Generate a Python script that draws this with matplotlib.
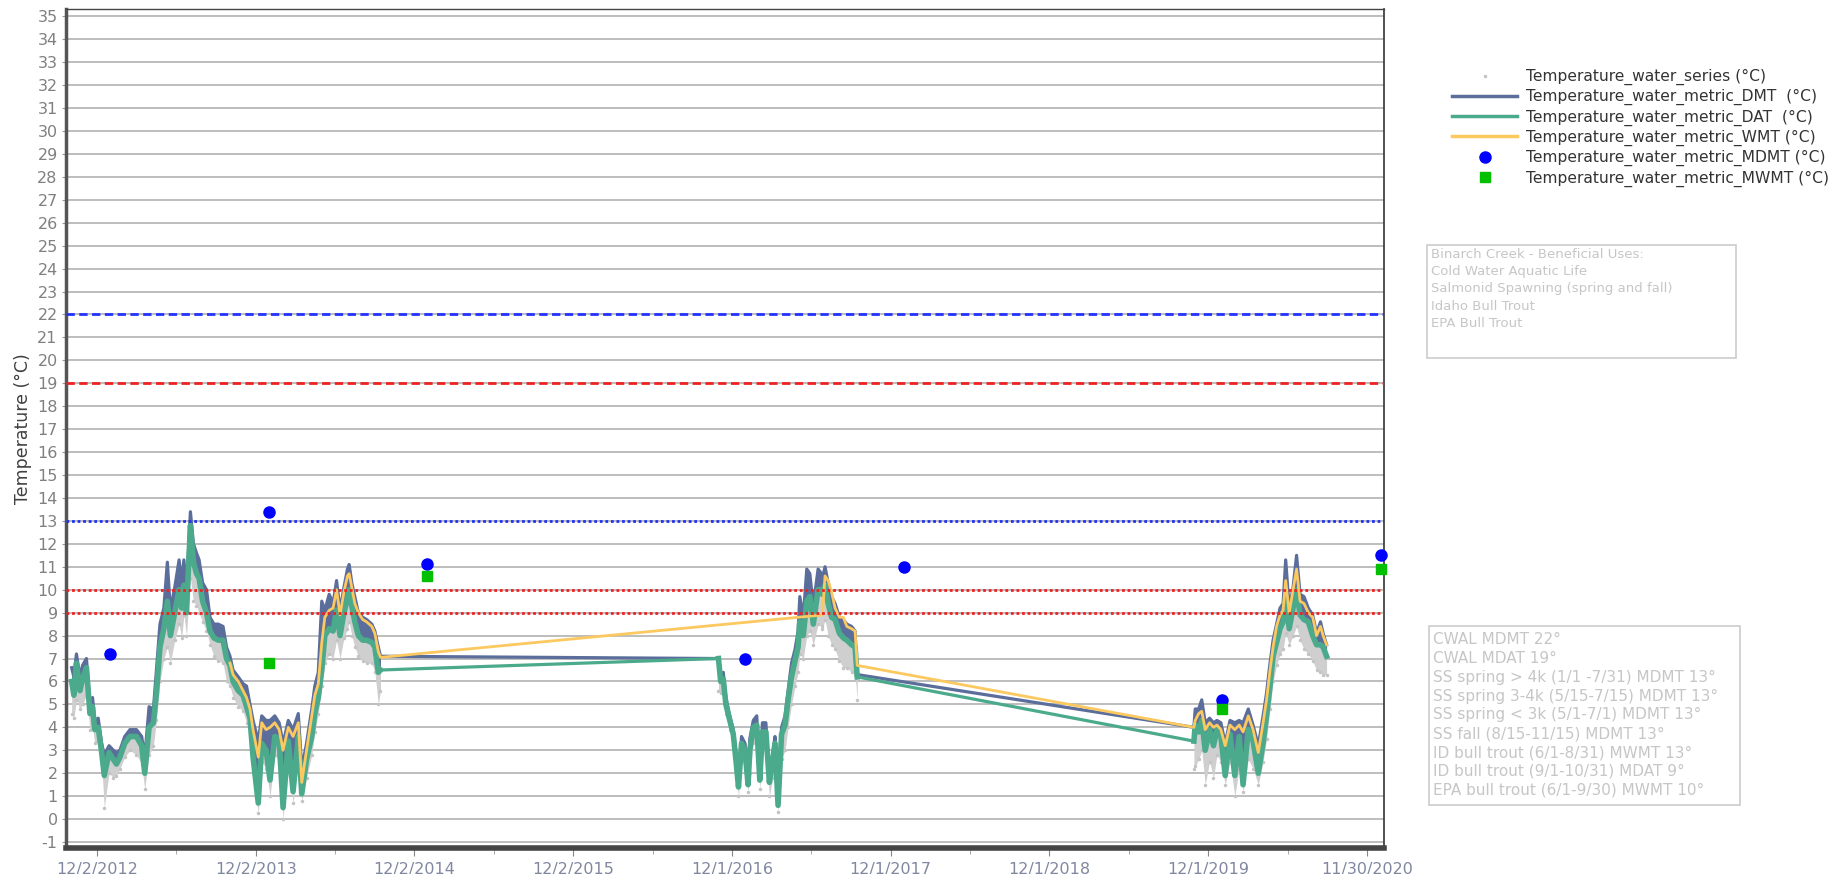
import numpy as np
import pandas as pd
import matplotlib
matplotlib.use('Agg')
import matplotlib.pyplot as plt
from matplotlib.lines import Line2D
from matplotlib.patches import Rectangle

plt.rcParams['axes.unicode_minus'] = False

# daily metrics (dmt = daily max, dat = daily average,
# wmt = weekly max, series_low = lowest raw readings)
dates = ['2012-10-05', '2012-10-10', '2012-10-16', '2012-10-24', '2012-10-30', '2012-11-08',
         '2012-11-16', '2012-11-22', '2012-11-27', '2012-12-05', '2012-12-13', '2012-12-19',
         '2012-12-30', '2013-01-09', '2013-01-16', '2013-01-24', '2013-02-04', '2013-02-16',
         '2013-03-03', '2013-03-15', '2013-03-22', '2013-04-01', '2013-04-11', '2013-04-18',
         '2013-04-26', '2013-05-05', '2013-05-13', '2013-05-20', '2013-05-30', '2013-06-09',
         '2013-06-15', '2013-06-20', '2013-06-26', '2013-07-05', '2013-07-12', '2013-07-19',
         '2013-07-25', '2013-08-02', '2013-08-11', '2013-08-19', '2013-08-28', '2013-09-07',
         '2013-09-18', '2013-09-26', '2013-10-04', '2013-10-11', '2013-10-23', '2013-11-03',
         '2013-11-11', '2013-11-19', '2013-11-26', '2013-12-08', '2013-12-16', '2013-12-26',
         '2014-01-04', '2014-01-15', '2014-01-25', '2014-02-03', '2014-02-15', '2014-02-26',
         '2014-03-10', '2014-03-18', '2014-03-29', '2014-04-10', '2014-04-17', '2014-04-25',
         '2014-05-03', '2014-05-10', '2014-05-20', '2014-05-29', '2014-06-06', '2014-06-14',
         '2014-06-23', '2014-07-01', '2014-07-05', '2014-07-11', '2014-07-18', '2014-07-26',
         '2014-08-05', '2014-08-14', '2014-08-26', '2014-09-02', '2014-09-10', '2014-09-15',
         # 2016-2017
         '2016-10-31', '2016-11-05', '2016-11-11', '2016-11-17', '2016-11-26', '2016-12-04',
         '2016-12-10', '2016-12-16', '2016-12-23', '2016-12-31', '2017-01-07', '2017-01-11',
         '2017-01-19', '2017-01-27', '2017-02-03', '2017-02-09', '2017-02-17', '2017-02-25',
         '2017-03-05', '2017-03-10', '2017-03-17', '2017-03-25', '2017-04-02', '2017-04-09',
         '2017-04-17', '2017-04-25', '2017-05-02', '2017-05-06', '2017-05-14', '2017-05-22',
         '2017-05-29', '2017-06-06', '2017-06-17', '2017-06-25', '2017-06-27', '2017-07-03',
         '2017-07-10', '2017-07-18', '2017-07-26', '2017-08-05', '2017-08-14', '2017-08-22',
         '2017-09-02', '2017-09-10', '2017-09-15',
         # 2019-2020
         '2019-10-29', '2019-11-01', '2019-11-09', '2019-11-16', '2019-11-24', '2019-12-04',
         '2019-12-13', '2019-12-21', '2019-12-30', '2020-01-09', '2020-01-20', '2020-01-31',
         '2020-02-10', '2020-02-19', '2020-03-02', '2020-03-13', '2020-03-25', '2020-04-05',
         '2020-04-13', '2020-04-21', '2020-04-28', '2020-05-06', '2020-05-14', '2020-05-21',
         '2020-05-27', '2020-06-04', '2020-06-13', '2020-06-21', '2020-06-29', '2020-07-08',
         '2020-07-18', '2020-07-28', '2020-08-06', '2020-08-15', '2020-08-21', '2020-08-29']

dmt = [6.6, 6.2, 7.2, 6.2, 6.7, 7.0, 5.0, 5.3, 4.3, 4.4, 3.3, 2.8,
       3.2, 3.0, 2.9, 3.0, 3.6, 3.9, 3.9, 3.6, 2.7, 4.9, 4.8, 6.5,
       8.5, 9.2, 11.2, 9.1, 10.1, 11.3, 10.3, 11.3, 10.0, 13.4, 12.0, 11.6,
       11.3, 10.3, 10.0, 8.8, 8.5, 8.5, 8.4, 7.5, 7.1, 6.5, 6.2, 5.9,
       5.8, 5.0, 4.3, 3.4, 4.5, 4.3, 4.3, 4.5, 4.2, 3.3, 4.3, 3.9,
       4.6, 2.2, 3.3, 4.8, 5.8, 6.4, 9.5, 9.1, 9.8, 9.4, 10.4, 9.1,
       10.1, 10.9, 11.1, 10.3, 9.7, 9.0, 8.8, 8.7, 8.5, 8.2, 7.5, 7.1,
       7.0, 6.2, 6.4, 5.3, 4.5, 3.9, 2.9, 1.6, 3.6, 3.3, 1.6, 3.5,
       4.3, 4.5, 1.9, 4.2, 4.2, 1.7, 2.9, 3.6, 0.7, 4.0, 4.5, 5.6,
       6.8, 7.4, 8.2, 9.7, 8.8, 10.9, 10.7, 9.3, 10.9, 10.7, 10.5, 11.0,
       10.3, 9.7, 9.4, 8.8, 8.7, 8.5, 8.4, 8.2, 6.3,
       4.0, 4.8, 4.8, 5.2, 4.2, 4.4, 4.2, 4.3, 4.2, 3.3, 4.3, 4.2,
       4.3, 4.2, 4.8, 4.1, 3.2, 4.5, 5.5, 6.8, 7.8, 8.5, 9.2, 9.4,
       11.3, 9.2, 10.1, 11.5, 9.8, 9.7, 9.2, 8.9, 8.1, 8.6, 8.1, 7.6]

dat = [6.0, 5.4, 6.8, 5.6, 6.1, 6.6, 4.6, 4.9, 3.9, 4.0, 2.9, 1.9,
       2.9, 2.6, 2.4, 2.7, 3.3, 3.6, 3.6, 3.2, 2.0, 4.0, 4.2, 5.5,
       7.5, 8.3, 9.5, 8.0, 9.0, 10.0, 9.2, 10.2, 9.0, 12.8, 11.2, 10.7,
       10.5, 9.5, 9.0, 8.2, 7.9, 7.8, 7.8, 7.0, 6.7, 6.0, 5.6, 5.4,
       4.9, 4.4, 2.7, 0.7, 3.3, 3.0, 1.7, 3.6, 3.5, 0.5, 3.4, 1.2,
       3.6, 1.1, 2.6, 3.6, 4.6, 5.3, 6.5, 8.0, 8.3, 8.2, 9.1, 8.0,
       9.0, 9.6, 10.0, 9.3, 8.6, 8.0, 7.8, 7.8, 7.7, 7.5, 6.4, 6.5,
       7.0, 6.0, 6.1, 5.0, 4.3, 3.7, 2.6, 1.4, 3.3, 3.0, 1.5, 3.0,
       4.0, 4.1, 1.7, 3.8, 3.8, 1.6, 2.6, 3.3, 0.6, 3.7, 4.1, 5.2,
       6.2, 6.9, 7.5, 8.6, 8.0, 9.5, 9.7, 8.5, 10.0, 10.0, 9.8, 10.2,
       9.4, 8.8, 8.7, 8.1, 7.9, 7.8, 7.6, 7.5, 6.2,
       3.4, 4.1, 3.8, 4.3, 3.0, 3.9, 3.2, 3.9, 3.6, 1.9, 3.7, 1.9,
       3.6, 1.5, 3.9, 3.4, 2.0, 3.3, 4.5, 5.8, 7.1, 7.7, 8.3, 8.6,
       9.7, 8.3, 9.2, 10.0, 8.9, 8.7, 8.6, 8.0, 7.6, 7.6, 7.5, 7.1]

nan = np.nan
wmt = [nan] * 44 + [
       6.8, 6.3, 6.0, 5.6, 5.3, 4.8, 3.9, 2.7, 4.2, 3.9, 4.0, 4.2, 3.9, 3.0, 4.0, 3.6,
       4.2, 1.6, 3.0, 4.5, 5.4, 5.9, 7.7, 8.8, 9.1, 9.2, 10.0, 8.9,
       9.9, 10.6, 10.7, 10.1, 9.4, 9.0, 8.7, 8.6, 8.4, 8.1, 7.3, 7.05] + [nan] * 34 + [
       8.9, 10.6, 10.4, 9.9, 9.2, 8.8, 8.8, 8.4, 8.3, 8.2, 6.7,
       4.0, 4.3, 4.6, 4.7, 3.9, 4.2, 4.0, 4.1, 3.9, 3.2, 4.1, 3.9,
       4.1, 3.8, 4.5, 3.9, 2.9, 4.2, 5.2, 6.5, 7.5, 8.4, 8.9, 9.1,
       10.4, 9.0, 10.0, 10.9, 9.5, 9.4, 9.0, 8.8, 8.0, 8.4, 8.0, 7.6]

series_low = [4.6, 4.4, 5.2, 4.8, 5.0, 5.4, 3.9, 4.0, 3.3, 3.4, 2.4, 0.5,
              2.0, 1.8, 1.9, 2.2, 2.7, 3.0, 2.8, 2.4, 1.3, 2.8, 3.2, 4.3,
              6.0, 7.0, 7.5, 6.8, 7.8, 8.5, 7.9, 8.9, 8.0, 10.5, 9.5, 9.3,
              9.0, 8.6, 8.2, 7.6, 7.1, 6.9, 6.8, 6.0, 5.8, 5.3, 4.9, 4.7,
              4.2, 3.8, 2.0, 0.25, 2.5, 2.2, 1.0, 2.8, 2.5, 0.0, 2.6, 0.7,
              2.4, 0.8, 1.8, 2.8, 3.8, 4.6, 5.8, 6.8, 7.2, 7.0, 7.8, 7.0,
              7.9, 8.3, 8.6, 8.0, 7.5, 7.1, 6.9, 6.8, 6.8, 6.4, 5.0, 5.6,
              5.6, 5.5, 5.6, 4.6, 3.9, 3.2, 2.0, 1.0, 2.6, 2.2, 1.2, 2.0,
              3.3, 3.4, 1.3, 3.0, 3.0, 1.0, 1.8, 2.4, 0.3, 2.6, 3.0, 4.0,
              5.0, 5.8, 6.4, 7.2, 7.0, 8.0, 8.2, 7.6, 8.5, 8.4, 8.3, 8.7,
              8.0, 7.6, 7.4, 6.9, 6.6, 6.6, 6.4, 6.3, 5.2,
              2.2, 2.3, 2.6, 3.0, 1.5, 2.5, 1.8, 2.8, 2.5, 1.5, 2.5, 1.0,
              2.2, 1.2, 2.6, 2.2, 1.5, 2.5, 3.5, 4.8, 6.0, 6.7, 7.2, 7.4,
              8.1, 7.6, 8.0, 8.4, 7.8, 7.4, 7.2, 6.9, 6.5, 6.4, 6.3, 6.3]

mdmt_dates = ['2013-01-01', '2014-01-01', '2015-01-01', '2017-01-01', '2018-01-01', '2020-01-01', '2021-01-01']
mdmt = [7.2, 13.4, 11.1, 7.0, 11.0, 5.2, 11.5]
mwmt_dates = ['2014-01-01', '2015-01-01', '2020-01-01', '2021-01-01']
mwmt = [6.8, 10.6, 4.8, 10.9]

criteria = [22, 19, 13, 10, 9]
crit_colors = ['#2233ff', '#ee2222', '#2233ee', '#ee2222', '#ee2222']
crit_styles = [(0, (3, 1.6)), (0, (3, 1.6)), (0, (1, 1)), (0, (1, 1)), (0, (1, 1))]

uses_text = ['Binarch Creek - Beneficial Uses:', 'Cold Water Aquatic Life',
             'Salmonid Spawning (spring and fall)', 'Idaho Bull Trout', 'EPA Bull Trout']
criteria_text = ['CWAL MDMT 22°', 'CWAL MDAT 19°', 'SS spring > 4k (1/1 -7/31) MDMT 13°',
                 'SS spring 3-4k (5/15-7/15) MDMT 13°', 'SS spring < 3k (5/1-7/1) MDMT 13°',
                 'SS fall (8/15-11/15) MDMT 13°', 'ID bull trout (6/1-8/31) MWMT 13°',
                 'ID bull trout (9/1-10/31) MDAT 9°', 'EPA bull trout (6/1-9/30) MWMT 10°']

c_dmt = '#5b6e9b'
c_dat = '#4caa8c'
c_wmt = '#fcc860'
c_ser = '#c4c4c4'

d = pd.to_datetime(dates)
dmt = np.array(dmt)
dat = np.array(dat)
wmt = np.array(wmt)
low = np.array(series_low)

fig = plt.figure(figsize=(18.35, 8.74), dpi=100)
ax = fig.add_axes([66 / 1835, 26 / 874, (1384 - 66) / 1835, (864.6 - 26) / 874])

# split at the long gaps so that fills don't bridge them
gaps = np.where(np.diff(d.values).astype('timedelta64[D]').astype(int) > 60)[0] + 1
for idx in np.split(np.arange(len(d)), gaps):
    ax.fill_between(d[idx], low[idx], dat[idx], color='#cfcfcf', lw=0, zorder=2)
    ax.plot(d[idx], low[idx], ls='none', marker='.', ms=3, color=c_ser, zorder=2)
    ax.fill_between(d[idx], dat[idx], dmt[idx], color=c_dmt, lw=0, zorder=3)
    ax.plot(d[idx], dat[idx], color=c_dat, lw=4, zorder=5)

ax.plot(d, dmt, color=c_dmt, lw=2.3, zorder=4)
ax.plot(d, dat, color=c_dat, lw=2.3, zorder=5)
m = ~np.isnan(wmt)
ax.plot(d[m], wmt[m], color=c_wmt, lw=2, zorder=6)

for v, c, s in zip(criteria, crit_colors, crit_styles):
    ax.axhline(v, color=c, ls=s, lw=2, zorder=6.5)

ax.plot(pd.to_datetime(mdmt_dates), mdmt, 'o', color='#0000ff', ms=8, zorder=8, clip_on=False)
ax.plot(pd.to_datetime(mwmt_dates), mwmt, 's', color='#00c000', ms=7.5, zorder=8, clip_on=False)

ax.set_ylim(-1.26, 35.3)
ax.set_yticks(range(-1, 36))
ax.grid(axis='y', color='#bdbdbd', lw=1.4, zorder=1)
ax.set_axisbelow(True)
ax.tick_params(axis='y', length=3, color='#999999', labelcolor='#808080', labelsize=11.5, pad=3)

ax.set_xlim(pd.Timestamp('2012-09-22'), pd.Timestamp('2021-01-08'))
major = pd.date_range('2012-12-02', periods=9, freq='365D')
minor = major[:-1] + pd.Timedelta(hours=12 * 365)
ax.set_xticks(major)
ax.set_xticklabels([f'{t.month}/{t.day}/{t.year}' for t in major],
                   family=['Liberation Sans Narrow', 'DejaVu Sans'])
ax.set_xticks(minor, minor=True)
ax.tick_params(axis='x', which='major', length=6, color='#888888', labelcolor='#8088a0', labelsize=11.5, pad=4)
ax.tick_params(axis='x', which='minor', length=4, color='#999999')

ax.set_ylabel('Temperature (°C)', fontsize=12.5, color='#404040', labelpad=4)

ax.spines['left'].set_color('#555555')
ax.spines['left'].set_linewidth(2.5)
ax.spines['bottom'].set_color('#444444')
ax.spines['bottom'].set_linewidth(4)
ax.spines['top'].set_color('#444444')
ax.spines['top'].set_linewidth(1)
ax.spines['right'].set_color('#333333')
ax.spines['right'].set_linewidth(1.2)

handles = [
    Line2D([], [], ls='none', marker='.', ms=3, color=c_ser),
    Line2D([], [], color=c_dmt, lw=2.5),
    Line2D([], [], color=c_dat, lw=2.5),
    Line2D([], [], color=c_wmt, lw=2.5),
    Line2D([], [], ls='none', marker='o', ms=8, color='#0000ff'),
    Line2D([], [], ls='none', marker='s', ms=7, color='#00c000'),
]
labels = ['Temperature_water_series (°C)', 'Temperature_water_metric_DMT  (°C)',
          'Temperature_water_metric_DAT  (°C)', 'Temperature_water_metric_WMT (°C)',
          'Temperature_water_metric_MDMT (°C)', 'Temperature_water_metric_MWMT (°C)']
leg = fig.legend(handles, labels, loc='upper left', bbox_to_anchor=(1452 / 1835, 1 - 69 / 874),
                 frameon=False, fontsize=11.2, handlelength=4.2, handletextpad=0.55,
                 labelspacing=0.26, borderpad=0, borderaxespad=0)
for t in leg.get_texts():
    t.set_color('#333333')

# info boxes on the right
fig.add_artist(Rectangle((1427 / 1835, 1 - 358 / 874), 309 / 1835, 113 / 874,
                         transform=fig.transFigure, fill=False, ec='#cccccc', lw=1.2))
fig.text(1431 / 1835, 1 - 248 / 874, '\n'.join(uses_text), fontsize=9.5, color='#c6c6c6',
         va='top', ha='left', linespacing=1.42)
fig.add_artist(Rectangle((1429 / 1835, 1 - 805 / 874), 311 / 1835, 179 / 874,
                         transform=fig.transFigure, fill=False, ec='#cccccc', lw=1.2))
fig.text(1433 / 1835, 1 - 632 / 874, '\n'.join(criteria_text), fontsize=11, color='#c6c6c6',
         va='top', ha='left', linespacing=1.32)

fig.savefig('out.png', dpi=100)
